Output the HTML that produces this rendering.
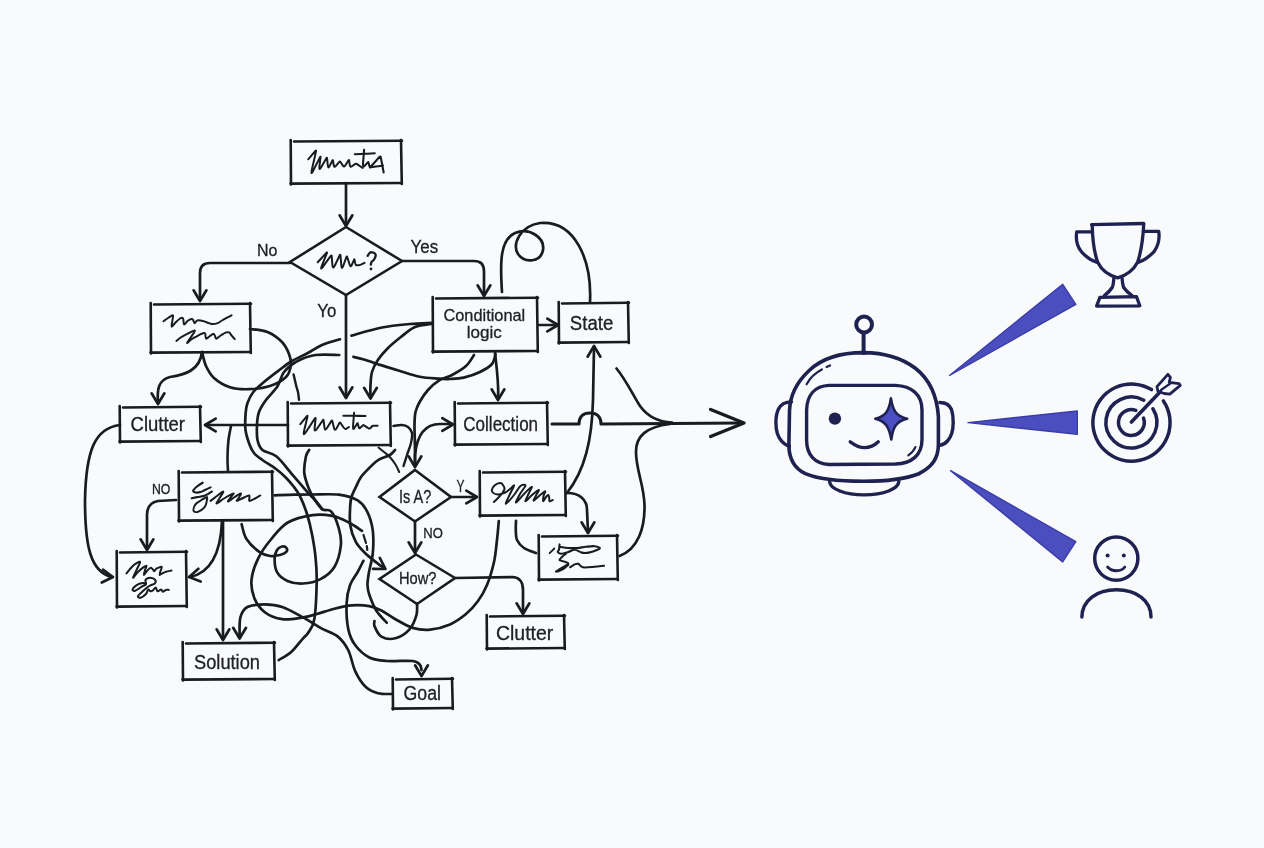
<!DOCTYPE html>
<html><head><meta charset="utf-8"><style>
html,body{margin:0;padding:0;background:#f9fafc;}
svg{display:block;}
text{font-family:"Liberation Sans",sans-serif;fill:#202128;stroke:#202128;stroke-width:0.3px;}
svg{will-change:transform;}
</style></head><body>
<svg width="1264" height="848" viewBox="0 0 1264 848" fill="none" stroke-linecap="round" stroke-linejoin="round">
<rect width="1264" height="848" fill="#f9fafc"/>
<path d="M294,141.5 L402,140.7" stroke="#1a1b21" stroke-width="2.6" />
<path d="M401,140 L401.8,184" stroke="#1a1b21" stroke-width="2.6" />
<path d="M401.5,183 L290.5,183.6" stroke="#1a1b21" stroke-width="2.6" />
<path d="M291,184.5 L290.7,140" stroke="#1a1b21" stroke-width="2.6" />
<path d="M346,227 L402,261 L346,295 L290,262 Z" stroke="#1a1b21" stroke-width="2.6" stroke-linejoin="miter"/>
<path d="M154,304.5 L251,303.7" stroke="#1a1b21" stroke-width="2.6" />
<path d="M250,303 L250.8,353" stroke="#1a1b21" stroke-width="2.6" />
<path d="M250.5,352 L150.5,352.6" stroke="#1a1b21" stroke-width="2.6" />
<path d="M151,353.5 L150.7,303" stroke="#1a1b21" stroke-width="2.6" />
<path d="M436,298.5 L538,297.7" stroke="#1a1b21" stroke-width="2.6" />
<path d="M537,297 L537.8,352" stroke="#1a1b21" stroke-width="2.6" />
<path d="M537.5,351 L432.5,351.6" stroke="#1a1b21" stroke-width="2.6" />
<path d="M433,352.5 L432.7,297" stroke="#1a1b21" stroke-width="2.6" />
<path d="M562,303.5 L629,302.7" stroke="#1a1b21" stroke-width="2.6" />
<path d="M628,302 L628.8,343" stroke="#1a1b21" stroke-width="2.6" />
<path d="M628.5,342 L558.5,342.6" stroke="#1a1b21" stroke-width="2.6" />
<path d="M559,343.5 L558.7,302" stroke="#1a1b21" stroke-width="2.6" />
<path d="M123,407.5 L201,406.7" stroke="#1a1b21" stroke-width="2.6" />
<path d="M200,406 L200.8,442" stroke="#1a1b21" stroke-width="2.6" />
<path d="M200.5,441 L119.5,441.6" stroke="#1a1b21" stroke-width="2.6" />
<path d="M120,442.5 L119.7,406" stroke="#1a1b21" stroke-width="2.6" />
<path d="M291,403.5 L391,402.7" stroke="#1a1b21" stroke-width="2.6" />
<path d="M390,402 L390.8,446" stroke="#1a1b21" stroke-width="2.6" />
<path d="M390.5,445 L287.5,445.6" stroke="#1a1b21" stroke-width="2.6" />
<path d="M288,446.5 L287.7,402" stroke="#1a1b21" stroke-width="2.6" />
<path d="M458,403.5 L548,402.7" stroke="#1a1b21" stroke-width="2.6" />
<path d="M547,402 L547.8,445" stroke="#1a1b21" stroke-width="2.6" />
<path d="M547.5,444 L454.5,444.6" stroke="#1a1b21" stroke-width="2.6" />
<path d="M455,445.5 L454.7,402" stroke="#1a1b21" stroke-width="2.6" />
<path d="M182,472.5 L273,471.7" stroke="#1a1b21" stroke-width="2.6" />
<path d="M272,471 L272.8,521" stroke="#1a1b21" stroke-width="2.6" />
<path d="M272.5,520 L178.5,520.6" stroke="#1a1b21" stroke-width="2.6" />
<path d="M179,521.5 L178.7,471" stroke="#1a1b21" stroke-width="2.6" />
<path d="M415,470 L451,497 L415,521.5 L379.5,497 Z" stroke="#1a1b21" stroke-width="2.6" stroke-linejoin="miter"/>
<path d="M483,472.5 L566,471.7" stroke="#1a1b21" stroke-width="2.6" />
<path d="M565,471 L565.8,516" stroke="#1a1b21" stroke-width="2.6" />
<path d="M565.5,515 L479.5,515.6" stroke="#1a1b21" stroke-width="2.6" />
<path d="M480,516.5 L479.7,471" stroke="#1a1b21" stroke-width="2.6" />
<path d="M120,552.5 L187,551.7" stroke="#1a1b21" stroke-width="2.6" />
<path d="M186,551 L186.8,607" stroke="#1a1b21" stroke-width="2.6" />
<path d="M186.5,606 L116.5,606.6" stroke="#1a1b21" stroke-width="2.6" />
<path d="M117,607.5 L116.7,551" stroke="#1a1b21" stroke-width="2.6" />
<path d="M416,554.5 L455,578 L417,604 L379.5,579 Z" stroke="#1a1b21" stroke-width="2.6" stroke-linejoin="miter"/>
<path d="M542,536.5 L618,535.7" stroke="#1a1b21" stroke-width="2.6" />
<path d="M617,535 L617.8,580" stroke="#1a1b21" stroke-width="2.6" />
<path d="M617.5,579 L538.5,579.6" stroke="#1a1b21" stroke-width="2.6" />
<path d="M539,580.5 L538.7,535" stroke="#1a1b21" stroke-width="2.6" />
<path d="M490,616.5 L565,615.7" stroke="#1a1b21" stroke-width="2.6" />
<path d="M564,615 L564.8,649" stroke="#1a1b21" stroke-width="2.6" />
<path d="M564.5,648 L486.5,648.6" stroke="#1a1b21" stroke-width="2.6" />
<path d="M487,649.5 L486.7,615" stroke="#1a1b21" stroke-width="2.6" />
<path d="M186,643.5 L275,642.7" stroke="#1a1b21" stroke-width="2.6" />
<path d="M274,642 L274.8,680" stroke="#1a1b21" stroke-width="2.6" />
<path d="M274.5,679 L182.5,679.6" stroke="#1a1b21" stroke-width="2.6" />
<path d="M183,680.5 L182.7,642" stroke="#1a1b21" stroke-width="2.6" />
<path d="M396,679.5 L453,678.7" stroke="#1a1b21" stroke-width="2.6" />
<path d="M452,678 L452.8,709" stroke="#1a1b21" stroke-width="2.6" />
<path d="M452.5,708 L392.5,708.6" stroke="#1a1b21" stroke-width="2.6" />
<path d="M393,709.5 L392.7,678" stroke="#1a1b21" stroke-width="2.6" />
<text x="257" y="256.3" font-size="16.5" textLength="20.4" lengthAdjust="spacingAndGlyphs">No</text>
<text x="410.6" y="252.6" font-size="18" textLength="27.6" lengthAdjust="spacingAndGlyphs">Yes</text>
<text x="317.3" y="317" font-size="18.5" textLength="19" lengthAdjust="spacingAndGlyphs">Yo</text>
<text x="443.5" y="321.4" font-size="17" textLength="81.7" lengthAdjust="spacingAndGlyphs">Conditional</text>
<text x="466.8" y="337.5" font-size="17" textLength="35" lengthAdjust="spacingAndGlyphs">logic</text>
<text x="569.8" y="330" font-size="19.5" textLength="43.5" lengthAdjust="spacingAndGlyphs">State</text>
<text x="130.6" y="431.4" font-size="19.5" textLength="54.4" lengthAdjust="spacingAndGlyphs">Clutter</text>
<text x="463.3" y="431.3" font-size="19.5" textLength="74.8" lengthAdjust="spacingAndGlyphs">Collection</text>
<text x="152" y="493.7" font-size="14" textLength="18.4" lengthAdjust="spacingAndGlyphs">NO</text>
<text x="399" y="503" font-size="19" textLength="32.3" lengthAdjust="spacingAndGlyphs">Is A?</text>
<text x="456.6" y="491.5" font-size="17" textLength="8" lengthAdjust="spacingAndGlyphs">Y</text>
<text x="423.2" y="537.5" font-size="14.5" textLength="19.6" lengthAdjust="spacingAndGlyphs">NO</text>
<text x="399" y="584.3" font-size="17" textLength="37.5" lengthAdjust="spacingAndGlyphs">How?</text>
<text x="496" y="640" font-size="20" textLength="57.3" lengthAdjust="spacingAndGlyphs">Clutter</text>
<text x="194" y="668.7" font-size="20" textLength="66" lengthAdjust="spacingAndGlyphs">Solution</text>
<text x="403.6" y="699.8" font-size="20" textLength="37.4" lengthAdjust="spacingAndGlyphs">Goal</text>
<path d="M367.7,255.8 C368.0,255.3 368.8,253.6 369.5,253.0 C370.2,252.4 371.1,252.2 372.0,252.3 C372.9,252.4 374.4,252.9 375.0,253.5 C375.6,254.1 375.8,255.0 375.6,256.0 C375.4,257.0 374.7,258.6 374.0,259.6 C373.3,260.6 372.0,261.1 371.5,262.0 C371.0,262.9 370.9,264.2 370.8,264.7" stroke="#1a1b21" stroke-width="2.3" />
<circle cx="371" cy="269" r="1.4" fill="#222329"/>
<path d="M346,183 L346,225" stroke="#1a1b21" stroke-width="2.7" />
<path d="M339.6,215.3 L346,226 L352.4,215.3" stroke="#1a1b21" stroke-width="2.7" />
<path d="M290,263 L210,263 Q200,263 200,273 L200,300" stroke="#1a1b21" stroke-width="2.7" />
<path d="M193.6,290.3 L200,301 L206.4,290.3" stroke="#1a1b21" stroke-width="2.7" />
<path d="M402,261 L474,261 Q484,261 484,271 L484,295" stroke="#1a1b21" stroke-width="2.7" />
<path d="M477.6,285.3 L484,296 L490.4,285.3" stroke="#1a1b21" stroke-width="2.7" />
<path d="M346,295 L346,397" stroke="#1a1b21" stroke-width="2.7" />
<path d="M339.6,387.3 L346,398 L352.4,387.3" stroke="#1a1b21" stroke-width="2.7" />
<path d="M539,325 L557,325" stroke="#1a1b21" stroke-width="2.7" />
<path d="M547.3,331.4 L558,325 L547.3,318.6" stroke="#1a1b21" stroke-width="2.7" />
<path d="M502,292 C500,262 500,240 515,233 C530,227 545,238 543,250 C541,262 525,264 518,254 C512,244 520,226 540,223 C575,220 592,260 590,302" stroke="#1a1b21" stroke-width="2.7" />
<path d="M567,493 C585,470 592,440 593,400 L594,347" stroke="#1a1b21" stroke-width="2.7" />
<path d="M600.4,356.7 L594,346 L587.6,356.7" stroke="#1a1b21" stroke-width="2.7" />
<path d="M552,424 L579,424 C579,417 583,413 590,413 C597,413 601,417 601,424 L742,423" stroke="#1a1b21" stroke-width="3.1" />
<path d="M710.6,436.5 L744,423 L710.6,409.5" stroke="#1a1b21" stroke-width="3.4" />
<path d="M616.5,368.5 C626,380 633,395 640,406 C648,417 658,422 672,422.5" stroke="#1a1b21" stroke-width="2.7" />
<path d="M619.5,556 C638,549 645,528 644.5,505 C644,485 636,470 636,452 C636,436 646,427 670,424" stroke="#1a1b21" stroke-width="2.7" />
<path d="M567,493 C580,493 587,500 587,510 L588,532" stroke="#1a1b21" stroke-width="2.7" />
<path d="M581.6,522.3 L588,533 L594.4,522.3" stroke="#1a1b21" stroke-width="2.7" />
<path d="M451,497 L476,497" stroke="#1a1b21" stroke-width="2.7" />
<path d="M466.3,503.4 L477,497 L466.3,490.6" stroke="#1a1b21" stroke-width="2.7" />
<path d="M415,521 L415,552" stroke="#1a1b21" stroke-width="2.7" />
<path d="M408.6,542.3 L415,553 L421.4,542.3" stroke="#1a1b21" stroke-width="2.7" />
<path d="M455,578 L513,577 Q523,578 523,590 L523,613" stroke="#1a1b21" stroke-width="2.7" />
<path d="M516.6,603.3 L523,614 L529.4,603.3" stroke="#1a1b21" stroke-width="2.7" />
<path d="M495,353 C497,370 499,385 498,399" stroke="#1a1b21" stroke-width="2.7" />
<path d="M491.6,389.3 L498,400 L504.4,389.3" stroke="#1a1b21" stroke-width="2.7" />
<path d="M202,352 C200,370 185,375 170,377 C158,380 157,390 158,403" stroke="#1a1b21" stroke-width="2.7" />
<path d="M151.6,393.3 L158,404 L164.4,393.3" stroke="#1a1b21" stroke-width="2.7" />
<path d="M288,425 L206,425" stroke="#1a1b21" stroke-width="2.7" />
<path d="M215.7,418.6 L205,425 L215.7,431.4" stroke="#1a1b21" stroke-width="2.7" />
<path d="M120,425 C95,428 86,450 85,500 C85,545 90,572 112,577" stroke="#1a1b21" stroke-width="2.7" />
<path d="M101.8,582.5 L113,577 L102.9,569.7" stroke="#1a1b21" stroke-width="2.7" />
<path d="M176,500 L158,501 Q147,503 147,515 L147,549" stroke="#1a1b21" stroke-width="2.7" />
<path d="M140.6,539.3 L147,550 L153.4,539.3" stroke="#1a1b21" stroke-width="2.7" />
<path d="M222,521 C221,545 215,572 190,577" stroke="#1a1b21" stroke-width="2.7" />
<path d="M198.4,568.8 L189,577 L200.7,581.5" stroke="#1a1b21" stroke-width="2.7" />
<path d="M223,521 L223,639" stroke="#1a1b21" stroke-width="2.7" />
<path d="M216.6,629.3 L223,640 L229.4,629.3" stroke="#1a1b21" stroke-width="2.7" />
<path d="M452,424 L440,424 C425,424 417,435 415,455 L415,466" stroke="#1a1b21" stroke-width="2.7" />
<path d="M408.6,456.3 L415,467 L421.4,456.3" stroke="#1a1b21" stroke-width="2.7" />
<path d="M442.3,430.9 L453,424.5 L442.3,418.1" stroke="#1a1b21" stroke-width="2.7" />
<path d="M432.3,323.7 C429.4,324.2 420.2,324.8 415.0,327.0 C409.8,329.2 405.4,333.5 400.9,337.0 C396.4,340.5 391.8,344.2 388.0,348.0 C384.2,351.8 380.7,355.7 378.0,359.7 C375.3,363.7 373.2,367.8 372.0,372.0 C370.8,376.2 370.8,380.8 370.5,385.0 C370.2,389.2 370.5,395.0 370.5,397.0" stroke="#1a1b21" stroke-width="2.7" />
<path d="M364.1,387.8 L370.5,398.5 L376.9,387.8" stroke="#1a1b21" stroke-width="2.7" />
<path d="M250.0,329.0 C253.0,329.5 262.7,330.0 268.0,332.2 C273.3,334.4 278.5,338.4 282.0,342.0 C285.5,345.6 287.5,350.1 289.0,354.0 C290.5,357.9 291.3,361.6 290.8,365.4 C290.3,369.2 289.5,373.6 286.0,377.0 C282.5,380.4 276.2,384.0 270.0,386.0 C263.8,388.0 255.7,389.0 249.0,389.2 C242.3,389.4 235.8,389.2 230.0,387.3 C224.2,385.4 218.0,381.6 214.0,378.0 C210.0,374.4 208.0,370.3 206.0,366.0 C204.0,361.7 202.7,354.3 202.0,352.0" stroke="#1a1b21" stroke-width="2.7" />
<path d="M432.3,322.9 C428.6,323.1 418.4,323.2 410.0,324.0 C401.6,324.8 391.8,325.6 382.0,327.5 C372.2,329.4 356.6,334.2 351.5,335.6" stroke="#1a1b21" stroke-width="2.7" />
<path d="M340.0,339.3 C337.0,340.2 327.4,342.7 322.0,345.0 C316.6,347.3 312.8,350.3 307.8,353.0 C302.8,355.7 296.9,358.1 292.0,361.0 C287.1,363.9 283.3,367.1 278.6,370.6 C273.9,374.1 268.2,378.4 264.0,382.0 C259.8,385.6 256.1,388.5 253.3,392.0 C250.6,395.5 248.8,399.4 247.5,403.0 C246.2,406.6 245.9,408.9 245.6,413.4 C245.3,417.9 244.8,424.8 245.5,430.0 C246.2,435.2 248.1,440.7 249.5,444.5 C250.9,448.3 251.8,450.4 254.0,453.0 C256.1,455.6 258.7,457.3 262.4,460.0 C266.1,462.7 272.1,466.1 276.0,469.0 C279.9,471.9 283.0,474.7 286.0,477.7 C289.0,480.7 291.6,483.9 294.0,487.0 C296.4,490.1 298.0,492.1 300.2,496.6 C302.4,501.1 305.0,507.7 307.0,514.0 C309.0,520.3 310.6,527.1 312.0,534.3 C313.4,541.5 314.7,549.1 315.5,557.0 C316.3,564.9 316.9,571.1 316.7,581.5 C316.5,591.9 315.8,610.6 314.3,619.2 C312.9,627.8 309.9,629.8 308.0,633.0 C306.1,636.2 306.0,635.1 303.1,638.3 C300.2,641.5 295.0,648.7 290.9,652.3 C286.8,655.9 280.7,658.8 278.7,660.1" stroke="#1a1b21" stroke-width="2.7" />
<path d="M495.5,354.0 C494.9,355.7 494.6,361.0 492.0,364.0 C489.4,367.0 484.7,369.7 480.0,372.0 C475.3,374.3 468.7,376.4 463.7,377.6 C458.7,378.8 454.1,378.8 450.0,379.0 C445.9,379.2 443.8,379.1 438.8,378.7 C433.8,378.3 426.4,378.1 419.9,376.8 C413.4,375.5 406.3,372.9 400.0,371.0 C393.7,369.1 387.9,367.3 381.9,365.4 C375.9,363.5 368.8,360.9 364.0,359.5 C359.2,358.1 355.2,357.3 353.4,356.9" stroke="#1a1b21" stroke-width="2.7" />
<path d="M339.2,355.0 C335.2,355.0 322.5,353.9 315.4,355.0 C308.3,356.1 301.7,358.8 296.5,361.6 C291.3,364.4 287.2,367.9 284.0,372.0 C280.8,376.1 280.5,381.6 277.5,386.3 C274.5,391.0 269.1,395.7 266.0,400.0 C262.9,404.3 260.5,407.8 259.0,412.0 C257.5,416.2 257.2,420.3 257.0,425.0 C256.8,429.7 256.6,435.8 257.5,440.0 C258.4,444.2 259.2,447.2 262.4,450.0 C265.6,452.8 271.5,452.3 276.6,456.5 C281.7,460.7 287.9,469.5 293.0,475.4 C298.1,481.3 303.5,487.8 307.2,491.9 C310.9,496.0 312.5,497.1 315.0,500.0 C317.5,502.9 321.2,507.8 322.4,509.3" stroke="#1a1b21" stroke-width="2.7" />
<path d="M474.0,355.0 C472.7,356.8 469.7,362.7 466.0,366.0 C462.3,369.3 456.5,372.6 452.0,375.0 C447.5,377.4 442.8,378.1 438.8,380.6 C434.8,383.1 431.1,386.5 428.0,390.0 C424.9,393.5 422.0,397.8 419.9,401.5 C417.8,405.2 416.4,408.1 415.5,412.0 C414.6,415.9 414.6,420.3 414.5,425.0 C414.4,429.7 414.7,435.0 414.8,440.0 C414.9,445.0 415.0,450.8 415.0,455.0 C415.0,459.2 415.0,463.3 415.0,465.0" stroke="#1a1b21" stroke-width="2.7" />
<path d="M228.0,471.0 C227.9,468.8 227.4,463.2 227.5,458.0 C227.6,452.8 227.9,445.3 228.5,440.0 C229.1,434.7 230.6,428.3 231.0,426.0" stroke="#1a1b21" stroke-width="2.6" />
<path d="M293.6,374.5 C294.0,376.2 295.3,382.1 296.0,385.0 C296.7,387.9 297.5,389.6 298.0,392.0 C298.5,394.4 298.8,398.4 299.0,399.7" stroke="#1a1b21" stroke-width="2.4" />
<path d="M274.6,495.3 C278.0,495.2 288.7,494.8 295.0,494.7 C301.3,494.6 305.2,494.5 312.5,494.5 C319.8,494.5 331.4,493.7 338.9,494.7 C346.4,495.7 353.0,497.6 357.7,500.4 C362.4,503.2 364.7,506.7 367.2,511.7 C369.7,516.7 371.9,523.7 372.8,530.6 C373.7,537.5 373.4,546.3 372.8,553.2 C372.2,560.1 369.9,566.7 369.0,572.0 C368.1,577.3 367.4,581.2 367.5,585.0 C367.6,588.8 367.9,590.5 369.3,594.8 C370.8,599.0 373.3,605.9 376.2,610.5 C379.1,615.1 384.9,620.7 386.7,622.7" stroke="#1a1b21" stroke-width="2.7" />
<path d="M395.0,450.0 C394.1,450.8 392.6,453.4 389.8,455.0 C387.1,456.6 382.0,457.6 378.5,459.8 C375.0,462.0 371.9,465.4 369.0,468.3 C366.1,471.2 363.2,473.9 361.0,477.0 C358.8,480.1 357.4,483.9 355.8,487.2 C354.2,490.5 352.4,493.9 351.5,497.0 C350.6,500.1 350.4,501.3 350.2,506.0 C350.0,510.7 349.3,519.0 350.2,525.0 C351.1,531.0 353.3,537.2 355.8,541.9 C358.3,546.6 361.8,549.8 365.3,553.2 C368.8,556.7 373.5,560.1 376.6,562.6 C379.7,565.1 382.8,567.1 384.0,568.0" stroke="#1a1b21" stroke-width="2.7" />
<path d="M373.0,568.8 L385.5,569 L379.8,557.9" stroke="#1a1b21" stroke-width="2.7" />
<path d="M241.6,524.2 C242.4,526.7 243.5,534.3 246.5,539.0 C249.5,543.7 255.8,549.4 259.7,552.2 C263.6,555.0 266.6,555.5 270.0,556.0 C273.4,556.5 277.3,555.6 280.0,555.0 C282.7,554.4 285.0,553.4 286.1,552.2 C287.2,551.0 287.2,549.0 286.5,548.0 C285.8,547.0 283.6,546.2 282.0,546.5 C280.4,546.8 278.2,548.0 277.0,550.0 C275.8,552.0 274.6,555.1 274.6,558.8 C274.6,562.5 274.9,568.5 277.0,572.2 C279.1,575.9 283.0,579.0 287.4,580.9 C291.8,582.8 297.6,583.8 303.1,583.5 C308.6,583.2 315.3,581.9 320.5,579.1 C325.7,576.4 331.0,572.6 334.4,567.0 C337.8,561.4 340.1,552.1 340.8,545.7 C341.6,539.3 340.5,534.4 338.9,528.7 C337.3,523.0 334.1,514.9 331.3,511.7 C328.6,508.5 325.1,511.2 322.4,509.3 C319.7,507.4 317.2,503.3 315.0,500.0 C312.8,496.7 311.0,494.0 309.2,489.5 C307.4,485.0 304.9,478.5 304.3,473.0 C303.8,467.5 305.1,460.4 305.9,456.5 C306.7,452.6 308.6,451.0 309.2,449.9" stroke="#1a1b21" stroke-width="2.7" />
<path d="M362.0,530.8 C359.8,529.4 353.8,525.0 348.8,522.5 C343.9,520.0 338.4,517.1 332.3,515.9 C326.2,514.7 319.9,514.0 312.5,515.1 C305.1,516.2 294.7,518.5 287.8,522.5 C280.9,526.5 276.3,533.0 271.3,539.0 C266.3,545.0 261.3,552.0 258.0,558.8 C254.7,565.6 252.1,573.4 251.5,580.0 C250.9,586.6 252.2,592.9 254.4,598.3 C256.6,603.7 260.2,608.7 264.8,612.2 C269.4,615.7 275.8,618.3 282.2,619.2 C288.6,620.1 297.3,618.3 303.1,617.4 C308.9,616.5 311.8,615.5 317.0,614.0 C322.2,612.5 328.6,610.2 334.4,608.7 C340.2,607.2 346.0,605.7 351.8,605.3 C357.6,604.9 364.4,605.2 369.3,606.1 C374.2,607.0 377.0,608.3 381.4,610.5 C385.8,612.7 390.2,616.3 395.4,619.2 C400.6,622.1 407.0,626.2 412.8,627.9 C418.6,629.6 424.0,630.2 430.2,629.6 C436.4,629.0 444.0,627.0 450.0,624.4 C456.0,621.8 461.3,617.9 466.0,614.0 C470.7,610.1 474.5,605.8 478.0,601.0 C481.5,596.2 484.3,591.5 487.0,585.0 C489.7,578.5 492.3,569.5 494.0,562.0 C495.7,554.5 496.2,546.8 497.0,540.0 C497.8,533.2 498.5,524.2 498.8,521.0" stroke="#1a1b21" stroke-width="2.7" />
<path d="M363.5,535 L366,543 M366.8,546 L367.3,550" stroke="#1a1b21" stroke-width="2.2" />
<path d="M363.4,560.8 C362.4,562.7 359.9,568.0 357.7,572.0 C355.5,576.0 352.0,579.8 350.1,585.0 C348.2,590.2 346.9,596.1 346.6,603.5 C346.3,610.9 346.9,622.6 348.4,629.6 C349.8,636.6 351.8,640.6 355.3,645.3 C358.8,649.9 364.1,654.9 369.3,657.5 C374.5,660.1 379.4,660.4 386.7,661.0 C393.9,661.6 407.2,660.3 412.8,661.0 C418.4,661.7 418.6,663.5 420.0,665.0 C421.4,666.5 421.2,669.2 421.5,670.0" stroke="#1a1b21" stroke-width="2.7" />
<path d="M415.1,665.3 L421.5,676 L427.9,665.3" stroke="#1a1b21" stroke-width="2.7" />
<path d="M239.6,636.0 C239.7,632.9 239.1,622.2 240.4,617.4 C241.7,612.6 243.3,609.2 247.4,607.0 C251.5,604.8 259.0,604.4 264.8,604.4 C270.6,604.4 275.8,604.8 282.2,607.0 C288.6,609.2 296.7,613.9 303.1,617.4 C309.5,620.9 314.7,624.7 320.5,627.9 C326.3,631.1 333.2,632.8 337.9,636.6 C342.5,640.4 345.5,644.7 348.4,650.5 C351.3,656.3 352.4,665.3 355.3,671.4 C358.2,677.5 362.0,683.5 365.8,687.1 C369.6,690.7 373.6,692.1 378.0,693.2 C382.4,694.4 389.6,693.9 391.9,694.0" stroke="#1a1b21" stroke-width="2.7" />
<path d="M233.2,627.8 L239.6,638.5 L246.0,627.8" stroke="#1a1b21" stroke-width="2.7" />
<path d="M417.1,603.5 C417.0,605.5 417.6,611.4 416.3,615.7 C415.0,620.1 412.8,625.8 409.3,629.6 C405.8,633.4 400.0,637.1 395.4,638.3 C390.8,639.5 384.9,638.6 381.4,636.6 C377.9,634.6 375.6,628.7 374.5,626.1 C373.4,623.5 374.5,621.9 374.5,621.0" stroke="#1a1b21" stroke-width="2.7" />
<path d="M393.4,426.0 C394.8,425.8 399.6,424.8 402.0,425.0 C404.4,425.2 406.3,425.7 408.0,427.0 C409.7,428.3 411.5,430.3 412.0,433.0 C412.5,435.7 411.8,439.3 411.0,443.0 C410.2,446.7 408.2,451.2 407.0,455.0 C405.8,458.8 404.1,464.2 403.5,466.0" stroke="#1a1b21" stroke-width="2.4" />
<path d="M378.5,447.5 C379.4,448.2 382.1,450.4 384.0,452.0 C385.9,453.6 387.9,454.9 389.8,457.0 C391.7,459.1 393.9,462.0 395.5,464.5 C397.1,467.0 398.6,470.8 399.2,472.0" stroke="#1a1b21" stroke-width="2.0" />
<path d="M516.0,520.8 C516.0,522.3 515.6,526.8 515.8,530.0 C516.0,533.2 515.6,537.0 517.0,540.0 C518.4,543.0 520.8,545.8 524.0,548.0 C527.2,550.2 534.0,552.2 536.0,553.0" stroke="#1a1b21" stroke-width="2.7" />
<path d="M308.2,159.3 L315.6,150.7 Q316.4,149.7 315.8,152.4 L312.1,168.5 Q310.3,176.5 313.4,170.3 L319.7,157.9 Q320.7,155.8 320.5,157.3 L319.4,166.5 Q318.9,171.1 321.3,166.9 L326.2,158.6 Q327.0,157.2 327.1,158.4 L327.8,165.5 Q328.1,169.0 329.5,166.2 L332.3,160.6 Q332.8,159.7 332.9,160.5 L333.8,165.5 Q334.2,168.0 335.9,165.9 L339.3,161.8 Q339.9,161.1 340.3,161.7 L342.9,165.6 Q344.2,167.5 345.6,165.1 L348.5,160.3 Q349.0,159.5 349.1,160.3 L349.8,165.1 Q350.2,167.5 351.9,166.3 L355.4,163.9 Q356.0,163.5 356.7,163.9 L362.7,168.0" stroke="#1a1b21" stroke-width="2.0" />
<path d="M364.1,149.7 L363.1,162.5 Q362.7,168.0 364.4,166.1 L367.8,162.4 Q368.4,161.8 368.5,162.4 L369.4,166.1 Q369.8,168.0 373.0,164.3 L379.4,157.0 Q380.5,155.8 380.8,157.5 L383.7,172.5" stroke="#1a1b21" stroke-width="2.1" />
<path d="M354.8,154.3 C356.3,154.2 360.7,154.0 364.0,153.8 C367.3,153.6 373.0,153.4 374.8,153.3" stroke="#1a1b21" stroke-width="2.0" />
<path d="M369.8,167.5 C370.8,167.3 373.8,166.8 376.0,166.5 C378.2,166.2 381.8,165.7 383.0,165.5" stroke="#1a1b21" stroke-width="1.9" />
<path d="M317.7,262.2 L326.5,252.8 Q327.5,251.7 326.7,253.7 L322.0,265.4 Q319.6,271.3 323.2,266.3 L330.4,256.3 Q331.6,254.6 331.7,256.1 L332.4,265.2 Q332.8,269.7 335.1,265.0 L339.6,255.5 Q340.4,253.9 340.5,255.6 L341.3,265.4 Q341.7,270.4 343.2,266.0 L346.3,257.3 Q346.8,255.8 347.2,257.0 L349.5,264.2 Q350.6,267.8 351.7,265.2 L354.0,259.9 Q354.4,259.0 354.5,259.6 L355.2,263.4 Q355.6,265.3 356.7,265.3 L358.3,265.3 Q359.4,265.3 360.9,264.6 L364.5,262.8" stroke="#1a1b21" stroke-width="2.0" />
<path d="M163.5,321.3 C164.2,320.8 166.4,319.0 168.0,318.0 C169.6,317.0 172.1,315.0 172.8,315.3 C173.6,315.6 172.7,318.1 172.5,320.0 C172.3,321.9 171.1,326.4 171.7,326.7 C172.3,327.0 174.6,323.4 176.0,322.0 C177.4,320.6 178.9,319.2 180.0,318.5 C181.1,317.8 182.2,317.6 182.8,318.0 C183.4,318.4 183.3,319.9 183.5,321.0 C183.7,322.1 183.5,324.5 184.2,324.5 C184.9,324.5 186.4,321.9 187.5,321.0 C188.6,320.1 189.7,319.4 190.6,319.2 C191.5,318.9 192.2,318.9 192.8,319.5 C193.5,320.1 193.9,322.9 194.5,323.1 C195.1,323.4 195.8,321.5 196.5,321.0 C197.2,320.5 197.3,320.2 198.4,320.2 C199.5,320.2 201.4,320.6 203.0,321.0 C204.6,321.4 206.2,322.2 207.7,322.7 C209.2,323.2 210.3,323.9 212.0,324.0 C213.7,324.1 216.0,323.7 217.7,323.1 C219.4,322.5 220.6,321.3 222.0,320.5 C223.4,319.7 224.6,319.0 226.2,318.1 C227.8,317.2 230.7,315.8 231.6,315.3" stroke="#1a1b21" stroke-width="2.0" />
<path d="M176.4,340.9 C177.0,340.4 178.8,338.8 180.0,338.0 C181.2,337.2 182.0,336.7 183.5,335.9 C185.0,335.1 187.1,333.9 189.0,333.0 C190.9,332.1 194.6,329.9 194.9,330.6 C195.2,331.3 192.3,334.9 191.0,337.0 C189.7,339.1 186.8,342.7 187.0,343.0 C187.2,343.3 190.2,340.2 192.0,339.0 C193.8,337.8 196.2,336.7 197.7,335.9 C199.2,335.1 199.8,334.5 201.0,334.0 C202.2,333.5 204.2,332.8 204.9,333.1 C205.7,333.4 205.3,335.1 205.5,336.0 C205.7,336.9 205.6,338.8 206.3,338.8 C207.1,338.8 208.8,336.8 210.0,336.0 C211.2,335.2 212.6,333.8 213.4,333.8 C214.2,333.8 214.5,335.2 215.0,336.0 C215.5,336.8 215.5,338.8 216.3,338.8 C217.1,338.8 218.8,336.8 220.0,336.0 C221.2,335.2 222.4,334.4 223.4,333.8 C224.4,333.2 225.1,332.7 226.0,332.5 C226.9,332.3 228.1,331.8 229.1,332.4 C230.1,333.0 230.9,334.8 231.9,335.9 C232.9,337.0 234.3,338.6 234.8,339.1" stroke="#1a1b21" stroke-width="2.0" />
<path d="M300.3,424.2 L307.1,415.9 Q307.8,415.0 307.3,417.2 L304.1,430.7 Q302.5,437.4 306.5,431.3 L314.4,419.1 Q315.7,417.1 315.6,418.7 L314.6,428.1 Q314.2,432.8 317.0,428.7 L322.6,420.6 Q323.5,419.2 323.6,420.4 L324.5,427.7 Q324.9,431.4 327.0,428.0 L331.3,421.1 Q332.0,420.0 332.3,421.1 L334.0,428.0 Q334.9,431.4 336.4,428.6 L339.4,423.0 Q339.9,422.1 340.4,422.8 L343.4,427.3 Q344.9,429.5 346.1,428.8 L349.0,427.0" stroke="#1a1b21" stroke-width="2.0" />
<path d="M354.1,412.8 L353.1,425.2 Q352.7,430.5 354.2,428.2 L357.2,423.6 Q357.7,422.8 357.8,423.4 L358.7,427.1 Q359.1,429.0 360.4,427.8 L363.0,425.3 Q363.4,424.9 364.0,425.3 L367.9,427.8 Q369.8,429.0 370.6,428.0 L372.3,426.0 Q372.6,425.7 373.1,425.7 L377.6,425.7" stroke="#1a1b21" stroke-width="2.0" />
<path d="M343.4,415.7 C345.2,415.7 350.3,415.8 354.0,415.8 C357.7,415.9 363.6,416.0 365.5,416.0" stroke="#1a1b21" stroke-width="2.1" />
<path d="M202.8,482.7 C201.8,483.3 198.6,485.1 197.0,486.5 C195.4,487.9 193.3,489.8 193.1,490.8 C192.9,491.8 194.8,492.3 196.0,492.5 C197.2,492.7 199.0,492.5 200.5,492.1 C202.0,491.7 203.3,490.8 205.0,490.0 C206.7,489.2 209.7,487.8 210.6,487.4" stroke="#1a1b21" stroke-width="2.1" />
<path d="M191.7,498.2 C192.8,498.0 195.8,497.4 198.0,497.0 C200.2,496.6 202.9,496.4 205.2,495.5 C207.5,494.6 210.8,492.2 211.9,491.5" stroke="#1a1b21" stroke-width="2.1" />
<path d="M207.0,497.0 C205.8,497.7 202.0,499.7 200.0,501.0 C198.0,502.3 196.2,503.2 195.1,504.9 C194.0,506.6 193.1,509.9 193.7,511.0 C194.2,512.1 196.5,512.4 198.4,511.6 C200.3,510.8 203.7,508.5 205.2,506.3 C206.7,504.1 206.9,499.6 207.2,498.2" stroke="#1a1b21" stroke-width="2" />
<path d="M210.6,500.9 C211.7,500.1 214.9,497.6 217.0,496.0 C219.1,494.4 222.8,491.2 223.3,491.5 C223.8,491.8 221.1,495.5 220.0,497.5 C218.9,499.5 215.9,503.4 216.6,503.6 C217.3,503.8 221.2,500.2 224.0,498.5 C226.8,496.8 232.3,493.7 233.4,493.5 C234.5,493.3 231.4,496.1 230.5,497.5 C229.6,498.9 227.4,501.6 228.0,501.6 C228.6,501.6 231.9,498.9 234.0,497.5 C236.1,496.1 240.0,493.5 240.8,493.5 C241.6,493.5 239.7,496.3 239.0,497.5 C238.3,498.7 236.3,500.7 236.8,500.9 C237.3,501.1 240.0,499.4 242.0,498.5 C244.0,497.6 247.7,495.5 248.9,495.5 C250.1,495.5 249.2,497.6 249.3,498.5 C249.4,499.4 248.7,500.9 249.6,500.9 C250.5,500.9 253.2,499.4 255.0,498.5 C256.8,497.6 259.4,496.0 260.3,495.5" stroke="#1a1b21" stroke-width="2.0" />
<path d="M493.9,502.0 C494.8,501.2 497.5,498.6 499.0,497.0 C500.5,495.4 501.8,493.8 502.7,492.5 C503.6,491.2 504.3,489.9 504.5,489.0 C504.7,488.1 504.6,487.8 504.0,486.8 C503.4,485.8 502.4,483.2 500.8,483.0 C499.2,482.8 496.0,484.1 494.5,485.5 C493.0,486.9 491.5,489.7 492.0,491.2 C492.5,492.7 495.5,494.2 497.7,494.4 C499.9,494.6 503.2,493.4 505.3,492.5 C507.4,491.6 508.5,490.2 510.0,489.0 C511.5,487.8 514.1,484.7 514.1,485.5 C514.1,486.3 511.4,490.9 510.0,494.0 C508.6,497.1 505.2,503.6 505.9,503.8 C506.6,504.0 511.6,498.0 514.0,495.0 C516.4,492.0 518.5,487.6 520.4,486.0 C522.3,484.4 525.6,484.2 525.5,485.5 C525.4,486.8 521.6,491.1 520.0,494.0 C518.4,496.9 515.3,502.6 516.0,502.6 C516.7,502.6 521.4,496.6 524.0,494.0 C526.6,491.4 531.0,486.8 531.8,486.8 C532.5,486.8 529.5,491.6 528.5,494.0 C527.5,496.4 524.9,501.1 525.5,501.3 C526.1,501.5 529.8,496.9 532.0,495.0 C534.2,493.1 538.1,489.8 538.8,489.9 C539.5,490.0 536.9,493.7 536.0,495.5 C535.1,497.3 533.2,500.6 533.7,500.7 C534.2,500.8 537.1,497.6 539.0,496.0 C540.9,494.4 544.4,491.2 545.1,491.2 C545.9,491.2 543.8,494.3 543.5,496.0 C543.2,497.7 542.8,501.1 543.2,501.3 C543.6,501.5 545.1,498.1 546.0,497.0 C546.9,495.9 547.8,494.8 548.3,495.0 C548.8,495.2 549.0,496.9 549.2,498.0 C549.4,499.1 549.0,501.0 549.6,501.3 C550.2,501.6 552.2,500.2 552.7,500.0" stroke="#1a1b21" stroke-width="2.0" />
<path d="M126.5,573.4 C127.1,572.7 128.8,570.4 130.0,569.0 C131.2,567.6 132.4,566.2 133.6,565.2 C134.8,564.2 135.9,563.5 137.0,563.0 C138.1,562.5 140.1,561.0 140.1,562.0 C140.1,563.0 138.2,566.4 137.0,569.0 C135.8,571.6 132.8,577.2 133.0,577.7 C133.2,578.2 136.3,573.7 138.0,572.0 C139.7,570.3 141.9,568.4 143.3,567.4 C144.7,566.4 146.3,565.4 146.6,565.8 C146.9,566.2 145.4,568.5 145.0,570.0 C144.6,571.5 143.6,574.8 143.9,575.0 C144.2,575.2 145.9,572.2 147.0,571.0 C148.1,569.8 149.5,568.2 150.4,567.9 C151.3,567.6 151.9,568.5 152.5,569.0 C153.1,569.5 153.6,571.2 154.2,571.2 C154.8,571.2 155.4,569.5 156.0,569.0 C156.6,568.5 157.0,568.3 158.0,567.9 C159.0,567.5 161.4,566.3 161.8,566.8 C162.2,567.3 160.9,569.6 160.5,571.0 C160.1,572.4 159.2,574.7 159.6,575.0 C160.0,575.3 161.9,573.5 163.0,573.0 C164.1,572.5 164.7,572.1 166.1,571.7 C167.5,571.3 170.6,570.8 171.5,570.6" stroke="#1a1b21" stroke-width="2.0" />
<path d="M146.0,584.2 C145.5,584.0 144.4,582.9 142.8,583.1 C141.2,583.3 138.0,584.2 136.3,585.3 C134.6,586.4 132.7,588.7 132.5,589.6 C132.3,590.5 133.6,591.2 135.2,590.7 C136.8,590.2 140.4,587.5 142.2,586.4 C144.0,585.3 145.4,585.3 146.0,584.2 C146.6,583.1 144.8,581.0 145.5,579.9 C146.2,578.8 148.8,577.7 150.4,577.7 C152.0,577.7 154.5,578.9 155.2,579.9 C155.9,580.9 155.5,582.8 154.7,583.7 C153.9,584.6 151.7,584.7 150.4,585.3 C149.1,585.9 148.3,586.5 147.1,587.5 C145.9,588.5 144.5,589.6 143.0,591.0 C141.5,592.4 138.3,595.0 137.9,596.1 C137.5,597.2 139.2,598.1 140.6,597.8 C141.9,597.4 144.7,595.4 146.0,594.0 C147.3,592.6 147.5,590.1 148.2,589.6 C148.9,589.1 149.3,590.8 150.0,591.0 C150.7,591.2 151.5,591.3 152.5,590.7 C153.5,590.1 155.0,587.4 155.8,587.5 C156.6,587.6 156.5,590.9 157.4,591.2 C158.3,591.6 160.3,589.5 161.2,589.6 C162.1,589.7 162.0,591.8 162.8,591.8 C163.6,591.8 165.1,590.2 166.1,589.9 C167.1,589.6 168.4,589.9 168.8,589.9" stroke="#1a1b21" stroke-width="2.0" />
<path d="M549.6,553.2 C550.4,552.4 553.5,549.3 554.3,548.5" stroke="#1a1b21" stroke-width="1.8" />
<path d="M559.6,544.4 C559.5,544.8 559.4,546.1 559.3,547.0 C559.2,547.9 559.2,548.9 559.0,549.7 C558.8,550.5 557.4,551.3 557.8,552.0 C558.2,552.7 559.5,553.8 561.3,553.8 C563.0,553.8 566.0,552.7 568.3,552.0 C570.5,551.3 572.5,549.6 574.8,549.7 C577.0,549.8 579.5,552.1 581.8,552.6 C584.1,553.1 586.2,553.1 588.8,552.6 C591.4,552.1 595.8,550.5 597.6,549.7 C599.4,548.9 600.2,548.6 599.7,548.0 C599.2,547.4 597.0,546.4 594.7,546.2 C592.4,546.0 588.8,546.5 585.9,546.8 C583.0,547.1 580.0,547.8 577.1,548.0 C574.2,548.2 571.2,548.2 568.3,548.0 C565.4,547.8 561.0,547.0 559.6,546.8" stroke="#1a1b21" stroke-width="2.1" />
<path d="M566.0,553.8 C565.3,554.3 563.1,555.9 562.0,557.0 C560.9,558.1 559.0,559.4 559.6,560.2 C560.2,561.0 564.0,561.4 565.4,562.0 C566.8,562.6 568.8,562.9 568.3,563.8 C567.8,564.7 564.5,566.0 562.5,567.3 C560.5,568.6 556.6,570.8 556.0,571.4 C555.4,572.0 557.6,571.5 559.0,571.0 C560.4,570.5 562.7,569.4 564.2,568.4 C565.8,567.4 567.6,565.5 568.3,564.9" stroke="#1a1b21" stroke-width="2.0" />
<path d="M570.1,567.3 C570.9,566.8 573.4,564.9 574.8,564.3 C576.2,563.7 576.9,563.3 578.3,563.8 C579.7,564.3 580.3,566.8 583.0,567.3 C585.7,567.8 591.2,567.0 594.7,566.7 C598.2,566.5 602.5,565.9 604.1,565.8" stroke="#1a1b21" stroke-width="2.0" />
<circle cx="864.1" cy="324.5" r="7.9" stroke="#1f2150" stroke-width="4"/>
<path d="M863.6,333 L863.6,353" stroke="#1f2150" stroke-width="4" />
<path d="M863.5,352.6 C884,352.8 902,358 915.4,368.3 C929,379 937,395 938.4,416.7 L938.4,445.4 C938,458 933,466 919,473.7 C905,479 885,481.3 863.5,481.3 C842,481.3 820,480 805.4,473.7 C794,468 789,458 788.9,445.4 L789.5,410.8 C790,394 799,380 808.9,370.7 C822,358 842,352.6 863.5,352.6 Z" stroke="#1f2150" stroke-width="3.6" />
<path d="M791.5,401.9 C786,402 781,404 778.5,409 C776.3,413.5 775.9,418 775.9,422.5 C775.9,430 777.5,436.5 781.5,441 C784,444 786.5,445.5 789.5,446" stroke="#1f2150" stroke-width="3.4" />
<path d="M939.8,402.5 C945,402.6 949.5,404.5 951.5,409.5 C953,414 953.2,418 953.2,422.5 C953.2,430 951.5,436.5 947.5,441 C945,443.8 942.5,445 939.8,445.4" stroke="#1f2150" stroke-width="3.4" />
<path d="M829,385.4 L895.4,385.4 C912,386 922,395 922,410 L922,439.5 C922,455 912,463.5 895.4,464 L829,464.5 C815,464 806.6,455 806.6,440 L806.6,410 C807,395 815,386 829,385.4 Z" stroke="#1f2150" stroke-width="3.4" />
<path d="M829.6,481.5 C830,489 845,494.9 864,494.9 C884,494.9 898,489 898.9,481.5" stroke="#1f2150" stroke-width="3.4" />
<circle cx="834.9" cy="418.6" r="6.2" fill="#1f2150" stroke="none"/>
<path d="M890.9,398.4 C893,411 896,416 907.2,418.8 C896,421.5 893,427 891.3,439.5 C889,427 886,421.5 875.3,418.8 C886,416 889,411 890.9,398.4 Z" stroke="#1f2150" stroke-width="2.6" fill="#4b4ec0" stroke-linejoin="round"/>
<path d="M850.2,441.8 C856,446 861,447.7 864.5,447.7 C868,447.7 874,446 878.3,441.8" stroke="#1f2150" stroke-width="3.3" />
<path d="M806.6,384.2 C810,378 815,373 821.9,369.5 M826.6,367 L830.1,365.4" stroke="#1f2150" stroke-width="2.2" />
<path d="M908.3,455.4 C911,453.5 914,450.5 915.4,447.1" stroke="#1f2150" stroke-width="2.2" />
<path d="M949.5,375.5 L1062.7,284.3 L1075.8,304.4 Z" fill="#4b4ebe" stroke="#3a3ca8" stroke-width="1.4" stroke-linejoin="round"/>
<path d="M968,422.6 L1077.3,411 L1077.3,434.3 Z" fill="#4b4ebe" stroke="#3a3ca8" stroke-width="1.4" stroke-linejoin="round"/>
<path d="M950.6,470.6 L1075.8,541.7 L1062.7,561.9 Z" fill="#4b4ebe" stroke="#3a3ca8" stroke-width="1.4" stroke-linejoin="round"/>
<path d="M1091.6,224.7 L1143.7,223.5" stroke="#1f2150" stroke-width="3.3" />
<path d="M1092.2,224.7 C1092.5,240 1094,252 1097.7,262.3 C1101,269 1107,275 1117.7,277.9 C1128,275 1134,269 1137.6,262.3 C1141,252 1143,240 1143.7,224.1" stroke="#1f2150" stroke-width="3.3" />
<path d="M1091.6,231.9 L1076.7,231.9 C1075.5,240 1077,246 1081.1,251.3 C1085,256 1090,260 1096.6,262.3" stroke="#1f2150" stroke-width="3.3" />
<path d="M1143.7,231.3 L1158.7,231.3 C1160,240 1158,246 1154.3,251.3 C1150,256 1145,260 1138.7,262.3" stroke="#1f2150" stroke-width="3.3" />
<path d="M1113.8,278.4 C1113.5,283 1113,286 1112.2,287.5 C1110,291 1107,293.5 1104.4,295.6" stroke="#1f2150" stroke-width="3.3" />
<path d="M1122.1,278.4 C1122.5,283 1123,286 1123.7,287.5 C1126,291 1129,293.5 1132.1,295.6" stroke="#1f2150" stroke-width="3.3" />
<path d="M1099.9,297.3 L1136.5,296.7 L1139.8,305.8 L1096.6,306.1 Z" stroke="#1f2150" stroke-width="3.3" />
<path d="M1163.4,400.9 A38.6,38.6 0 1 1 1151.5,389.6" stroke="#1f2150" stroke-width="3.5" />
<path d="M1152.9,408.8 A25.5,25.5 0 1 1 1143.8,400.2" stroke="#1f2150" stroke-width="3.5" />
<path d="M1143.5,418.1 A12.9,12.9 0 1 1 1135.8,410.4" stroke="#1f2150" stroke-width="3.5" />
<path d="M1131.4,422.0 L1160.5,391.6" stroke="#1f2150" stroke-width="3.6" />
<path d="M1158,391.5 L1157,386.7 L1167.9,374.3 L1170.4,377.4 L1169.2,382.3 L1179,383.6 L1180.3,385.4 L1169.8,394.1 L1164.2,393.5 Z" stroke="#1f2150" stroke-width="2.8" stroke-linejoin="round"/>
<path d="M1161,390 L1171,383" stroke="#1f2150" stroke-width="2.2" />
<circle cx="1116.3" cy="558.6" r="21.6" stroke="#1f2150" stroke-width="3.5"/>
<circle cx="1107.6" cy="555.5" r="2" fill="#1f2150" stroke="none"/>
<circle cx="1123.8" cy="555.5" r="2" fill="#1f2150" stroke="none"/>
<path d="M1107.6,567 C1112,572 1121,572 1124.8,567" stroke="#1f2150" stroke-width="2.8" />
<path d="M1081.9,617 C1082,600 1097,589.8 1116.5,589.8 C1136,589.8 1151,600 1151,617" stroke="#1f2150" stroke-width="3.5" />
</svg>
</body></html>
